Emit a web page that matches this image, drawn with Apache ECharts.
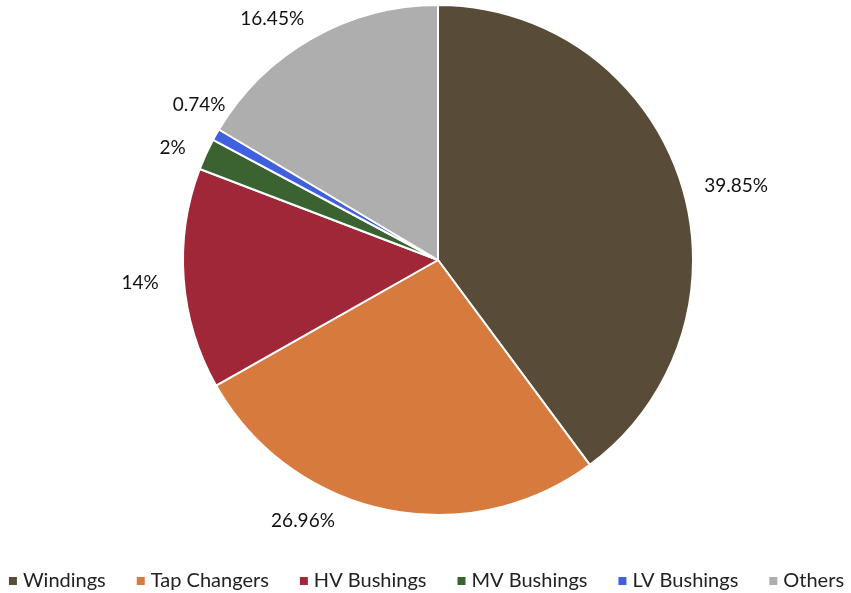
<!DOCTYPE html>
<html>
<head>
<meta charset="utf-8">
<script src="https://cdn.jsdelivr.net/npm/echarts@6/dist/echarts.min.js"></script>
<style>
  html, body { margin: 0; padding: 0; background: #fff; }
  #main { width: 851px; height: 593px; }
</style>
</head>
<body>
<div id="main"></div>
<script>
var categories = ['Windings', 'Tap Changers', 'HV Bushings', 'MV Bushings', 'LV Bushings', 'Others'];
var values = [39.85, 26.96, 14, 2, 0.74, 16.45];
var colors = ['#584B37', '#D67B3D', '#A02737', '#3A6331', '#4060E0', '#AEAEAE'];

// small nudges so the labels sit where Excel put them
var labelNudge = {
  'Windings': [0, 12],
  'Tap Changers': [-41, -8],
  'HV Bushings': [0, 2],
  'MV Bushings': [3, 2],
  'LV Bushings': [32, -20],
  'Others': [7, -2]
};

var pieData = categories.map(function (name, i) {
  return {
    name: name,
    value: values[i],
    itemStyle: { color: colors[i] },
    label: { offset: labelNudge[name] }
  };
});

var chart = echarts.init(document.getElementById('main'));
chart.setOption({
  animation: false,
  textStyle: { fontFamily: 'Lato', color: '#000' },
  legend: {
    bottom: 2,
    left: 'center',
    padding: 0,
    itemWidth: 10,
    itemHeight: 10,
    itemGap: 29,
    icon: 'rect',
    textStyle: { fontSize: 20, color: '#222', fontFamily: 'Lato' },
    data: categories
  },
  series: [{
    type: 'pie',
    center: [438, 260],
    radius: 255,
    startAngle: 90,
    clockwise: true,
    data: pieData,
    itemStyle: { borderColor: '#fff', borderWidth: 2 },
    label: {
      show: true,
      position: 'outside',
      formatter: '{c}%',
      fontSize: 19,
      color: '#111',
      fontFamily: 'Lato'
    },
    labelLine: { show: false, length: 20, length2: 0 },
    emphasis: { disabled: true }
  }]
});
</script>
</body>
</html>
